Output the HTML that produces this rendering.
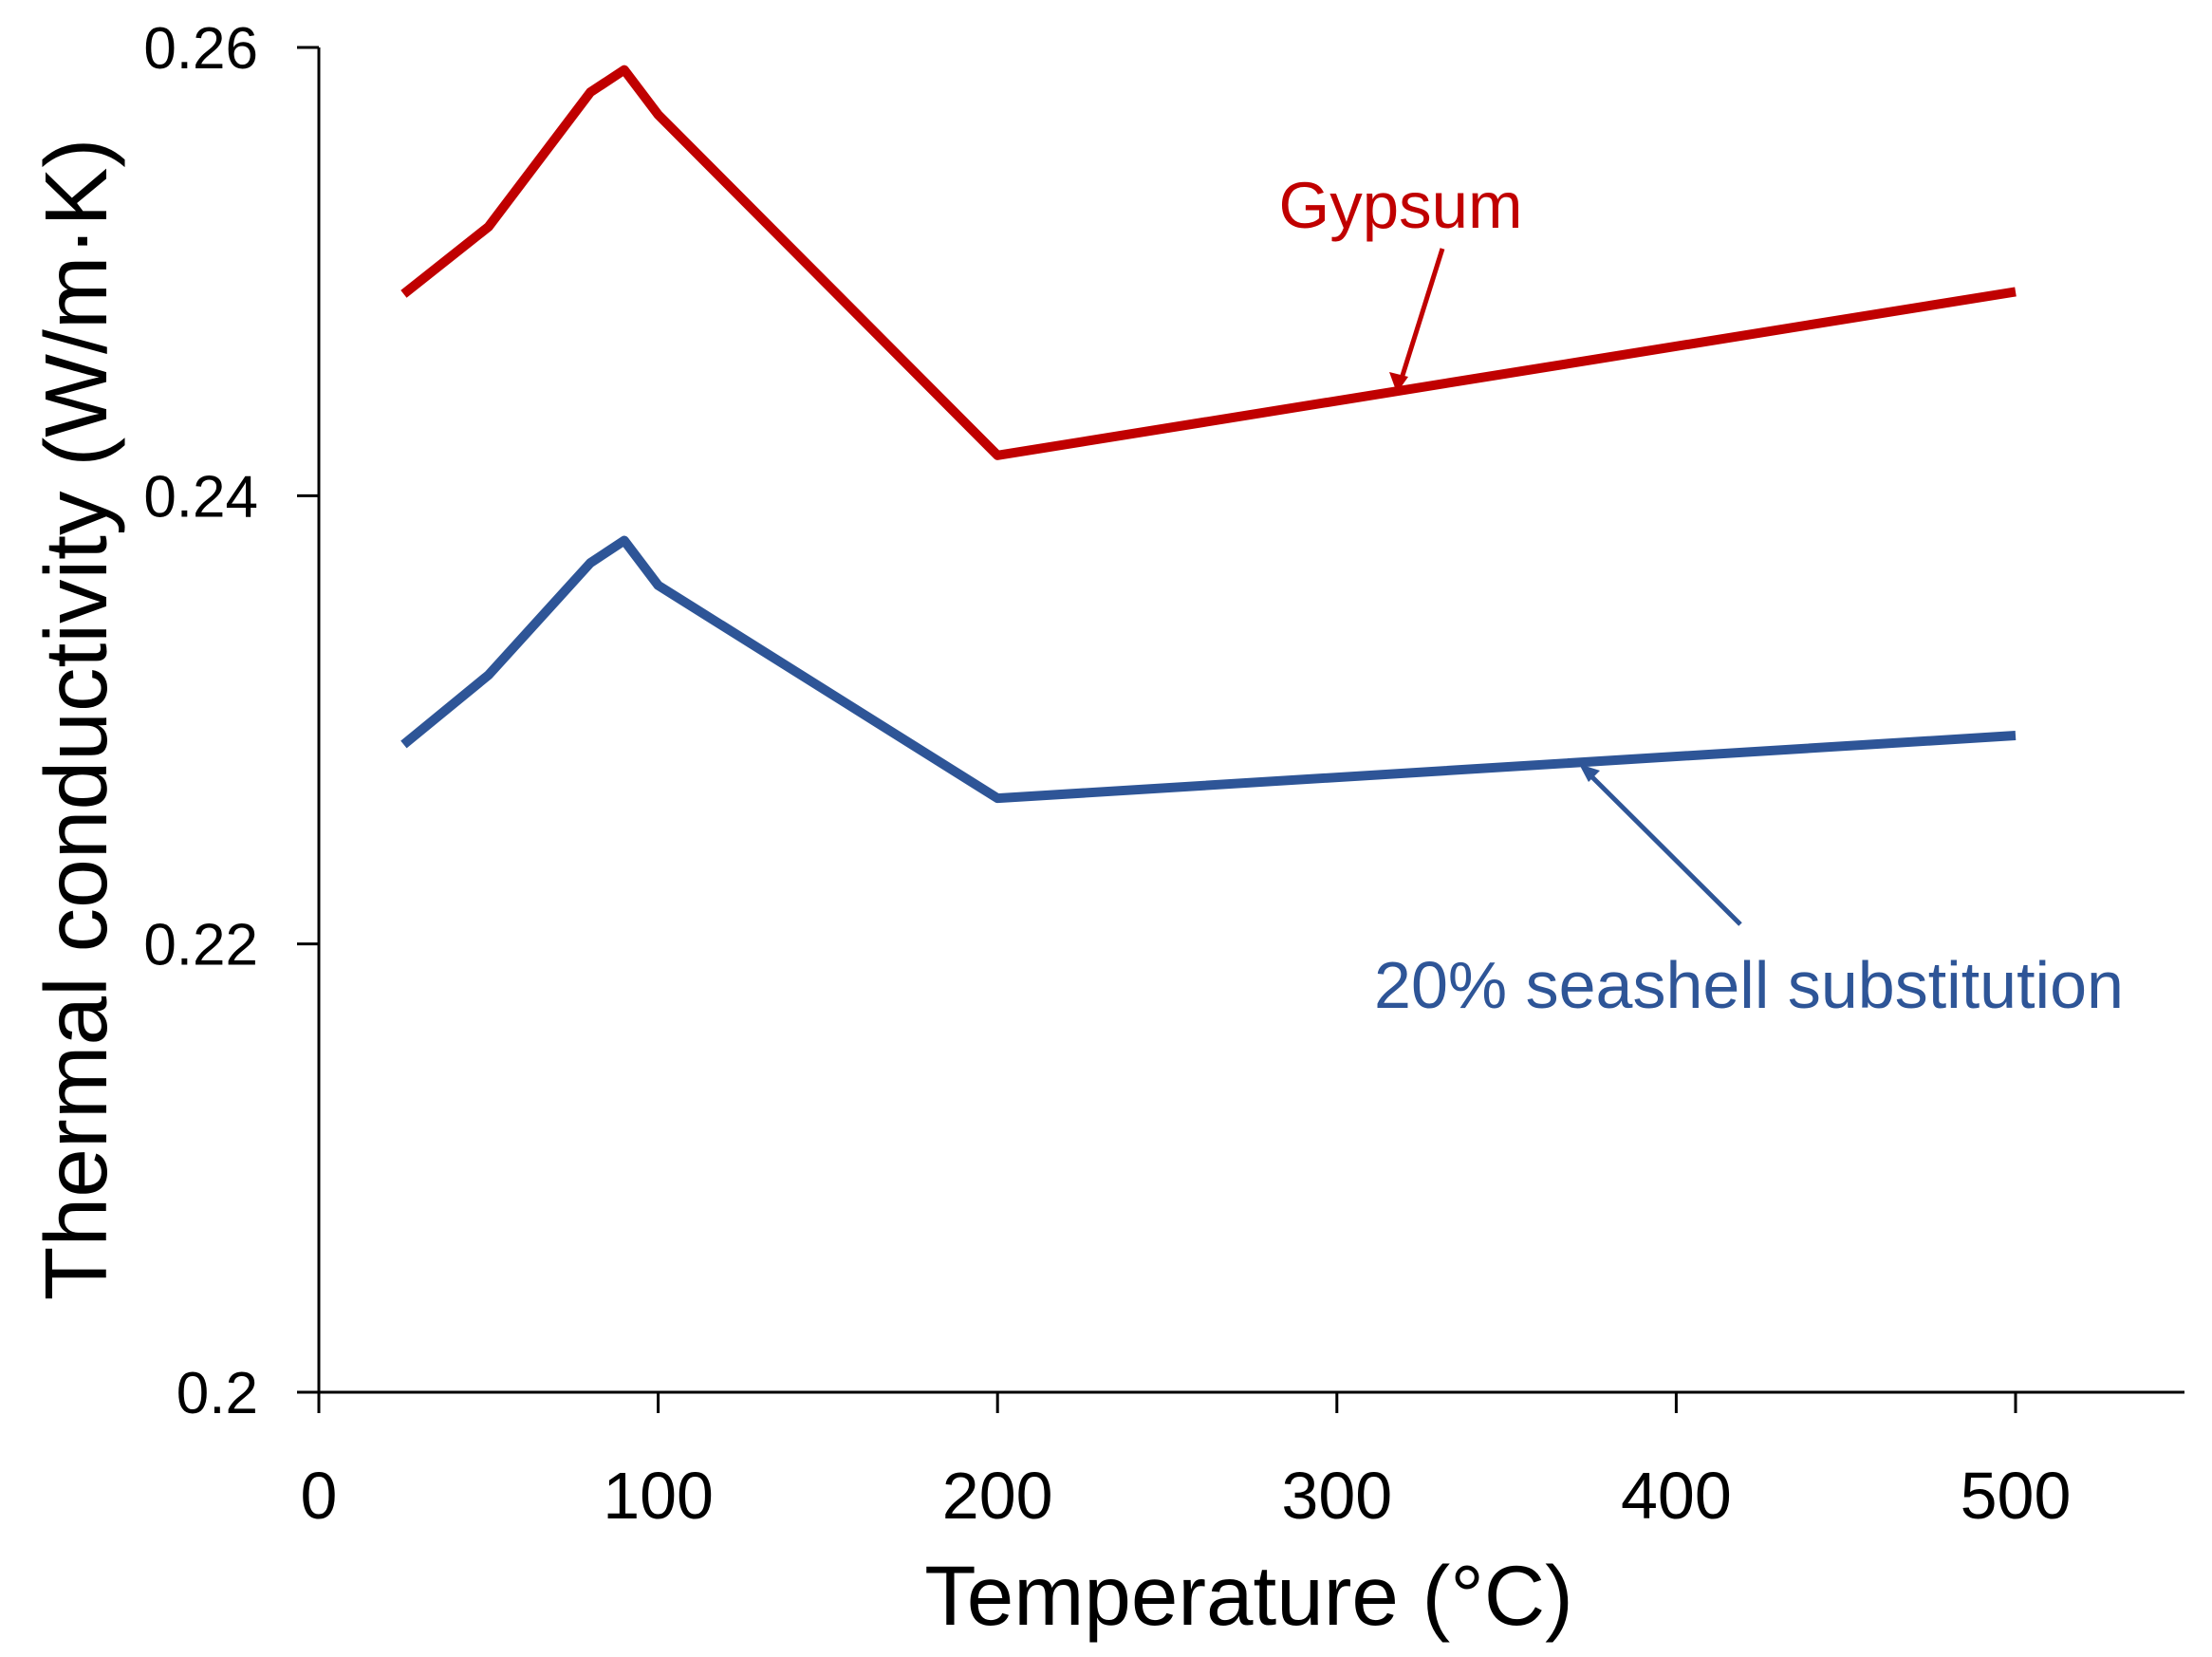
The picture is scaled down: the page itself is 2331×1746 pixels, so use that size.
<!DOCTYPE html>
<html><head><meta charset="utf-8"><style>
body{margin:0;background:#fff}
svg{display:block;font-family:"Liberation Sans",sans-serif}
</style></head><body>
<svg width="2331" height="1746" viewBox="0 0 2331 1746">
<g id="axes"></g>
<g id="series"></g>
<text x="1476" y="240" font-size="69" fill="#c00000" text-anchor="middle">Gypsum</text>
<line x1="1520" y1="262" x2="1476" y2="402" stroke="#c00000" stroke-width="5"/>
<polygon points="1472,414 1464,392 1484,397" fill="#c00000"/>
<text x="1843" y="1062" font-size="70" fill="#2e5597" text-anchor="middle">20% seashell substitution</text>
<line x1="1834" y1="974" x2="1672" y2="813" stroke="#2e5597" stroke-width="5"/>
<polygon points="1664,805 1686,812 1674,824" fill="#2e5597"/>
<text x="1316" y="1712" font-size="89" text-anchor="middle" fill="#000">Temperature (°C)</text>
<text transform="translate(112,758) rotate(-90)" font-size="93" text-anchor="middle" fill="#000">Thermal conductivity  (W/m·K)</text>
</svg>
<script>
const temps=[25,50,80,90,100,200,500];
const gypsum=[0.249,0.252,0.258,0.259,0.257,0.2418,0.2491];
const seashell=[0.2289,0.232,0.237,0.238,0.236,0.2265,0.2293];
const xTicks=[0,100,200,300,400,500];
const yTicks=[0.2,0.22,0.24,0.26];
const yLabels=["0.2","0.22","0.24","0.26"];
const X0=336,XS=(2124-336)/500,Y0=1467,YS=(1467-50)/0.06;
const sx=v=>X0+v*XS, sy=v=>Y0-(v-0.2)*YS;
const NS="http://www.w3.org/2000/svg";
const ax=document.getElementById('axes'), se=document.getElementById('series');
function mk(tag,attrs,parent){const e=document.createElementNS(NS,tag);for(const k in attrs)e.setAttribute(k,attrs[k]);parent.appendChild(e);return e;}
let l=mk('line',{x1:X0,y1:sy(0.26),x2:X0,y2:Y0,stroke:'#000','stroke-width':3},ax);


l=mk('line',{x1:X0,y1:Y0,x2:2302,y2:Y0,stroke:'#000','stroke-width':3},ax);


yTicks.forEach((v,i)=>{
 const t=mk('line',{x1:313,y1:sy(v),x2:X0,y2:sy(v),stroke:'#000','stroke-width':3},ax);
 
 
 const tx=mk('text',{x:272,y:sy(v)+22,'font-size':62,'text-anchor':'end',fill:'#000'},ax);
 tx.textContent=yLabels[i];
 
 
});
xTicks.forEach(v=>{
 const t=mk('line',{x1:sx(v),y1:Y0,x2:sx(v),y2:Y0+22,stroke:'#000','stroke-width':3},ax);
 
 
 const tx=mk('text',{x:sx(v),y:1600,'font-size':70,'text-anchor':'middle',fill:'#000'},ax);
 tx.textContent=String(v);
 
 
});
function line(vals,color,name){
 const p=mk('polyline',{points:temps.map((t,i)=>sx(t)+','+sy(vals[i])).join(' '),fill:'none',stroke:color,'stroke-width':10,'stroke-linejoin':'round'},se);
 
 
}
line(gypsum,'#c00000','gypsum-line');
line(seashell,'#2e5597','seashell-line');
</script>
</body></html>
